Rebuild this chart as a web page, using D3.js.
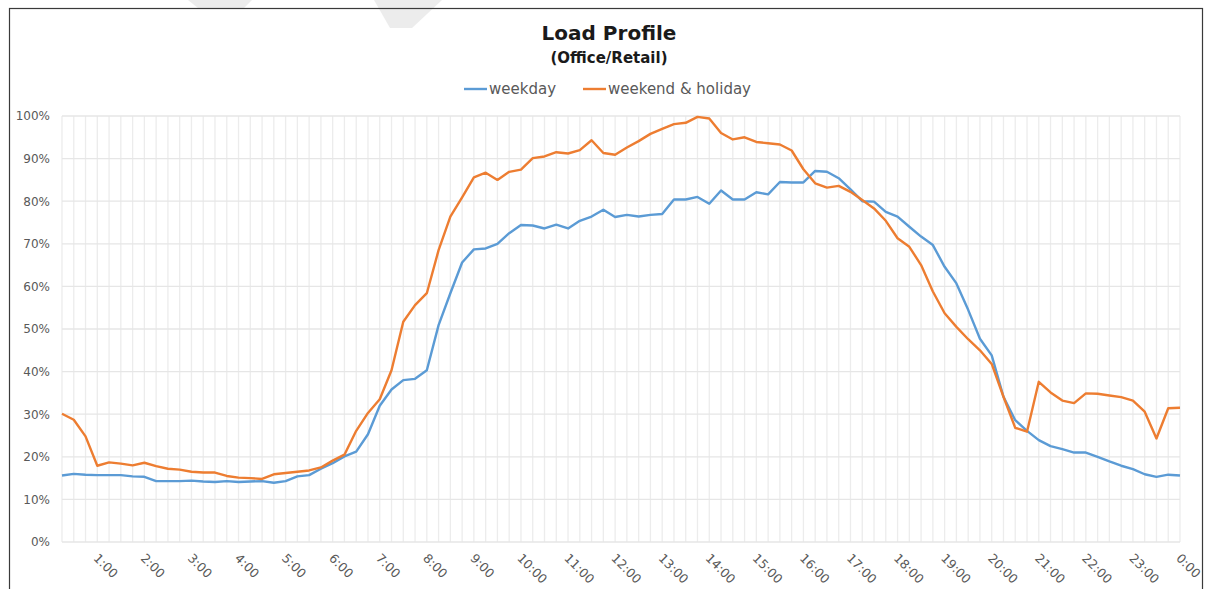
<!DOCTYPE html>
<html>
<head>
<meta charset="utf-8">
<script src="https://cdn.jsdelivr.net/npm/d3@7"></script>
<style>
  body { margin: 0; background: #fff; }
  svg { display: block; font-family: "DejaVu Sans", sans-serif; }
</style>
</head>
<body>
<svg id="chart"></svg>
<script>
////////////////////////////////////////////////////////////////////////////////
////////////////////////////////////////////////////////////////// Chart data
////////////////////////////////////////////////////////////////////////////////

// 15 minute slots, 0:15 ... 23:45, 0:00
const slots = [];
for (let i = 1; i <= 96; i++) {
  const m = i * 15;
  const h = Math.floor(m / 60) % 24;
  const mm = m % 60;
  slots.push(`${h}:${mm < 10 ? "0" + mm : mm}`);
}

// percent of peak load
const weekday = [
  15.6, 16.0, 15.8, 15.7, 15.7, 15.7, 15.4, 15.3,
  14.3, 14.3, 14.3, 14.4, 14.2, 14.1, 14.3, 14.1,
  14.2, 14.3, 13.9, 14.3, 15.4, 15.7, 17.2, 18.5,
  20.1, 21.2, 25.3, 32.0, 35.8, 38.0, 38.3, 40.3,
  50.9, 58.4, 65.6, 68.7, 68.9, 70.0, 72.5, 74.4,
  74.3, 73.6, 74.5, 73.6, 75.4, 76.4, 78.0, 76.3,
  76.8, 76.4, 76.8, 77.0, 80.4, 80.4, 81.0, 79.4,
  82.5, 80.4, 80.4, 82.1, 81.6, 84.5, 84.4, 84.4,
  87.1, 86.9, 85.4, 82.8, 80.0, 79.9, 77.5, 76.4,
  74.0, 71.7, 69.7, 64.6, 60.7, 54.5, 47.7, 43.8,
  34.1, 28.6, 26.1, 23.9, 22.5, 21.8, 21.0, 21.0,
  20.0, 18.9, 17.9, 17.1, 15.9, 15.3, 15.8, 15.6
];

const weekend = [
  30.1, 28.7, 24.8, 17.9, 18.7, 18.4, 18.0, 18.6,
  17.8, 17.2, 17.0, 16.5, 16.3, 16.3, 15.5, 15.1,
  15.0, 14.8, 15.9, 16.2, 16.5, 16.8, 17.5, 19.1,
  20.5, 26.1, 30.3, 33.5, 40.3, 51.7, 55.6, 58.4,
  68.5, 76.4, 80.9, 85.6, 86.7, 85.0, 86.9, 87.4,
  90.1, 90.5, 91.5, 91.2, 92.0, 94.3, 91.3, 90.9,
  92.6, 94.1, 95.8, 97.0, 98.1, 98.4, 99.8, 99.4,
  96.0, 94.5, 95.0, 93.9, 93.6, 93.3, 91.9, 87.5,
  84.2, 83.2, 83.6, 82.2, 80.3, 78.3, 75.4, 71.3,
  69.3, 65.0, 58.8, 53.7, 50.5, 47.6, 45.0, 41.8,
  34.1, 26.8, 25.9, 37.6, 35.1, 33.2, 32.6, 34.9,
  34.8, 34.4, 34.0, 33.2, 30.6, 24.3, 31.4, 31.5
];

const seriesNames = ["weekday", "weekend & holiday"];
const seriesColors = ["#5b9bd5", "#ed7d31"];
const yTicks = [0, 10, 20, 30, 40, 50, 60, 70, 80, 90, 100];

////////////////////////////////////////////////////////////////////////////////
////////////////////////////////////////////////////////////////// Draw chart
////////////////////////////////////////////////////////////////////////////////

const W = 1205, H = 589;
const margin = { top: 116, right: 25, bottom: 47, left: 62 };
const width = W - margin.left - margin.right;
const height = H - margin.top - margin.bottom;

const svg = d3.select("#chart")
              .attr("width", W)
              .attr("height", H);

// faint watermark bits above the frame
svg.append("polygon")
   .attr("points", "188,0 252,0 244,8 198,8")
   .attr("fill", "#ececec");
svg.append("polygon")
   .attr("points", "374,0 442,0 412,28 390,28")
   .attr("fill", "#ececec");

// chart frame
svg.append("rect")
   .attr("x", 9.5)
   .attr("y", 8.5)
   .attr("width", 1193)
   .attr("height", 620)
   .attr("fill", "none")
   .attr("stroke", "#3a3a3a")
   .attr("stroke-width", 1.2);

const g = svg.append("g")
             .attr("transform", `translate(${margin.left},${margin.top})`);

// X scale: one point per slot, first and last on the plot edges
const xScale = d3.scalePoint()
                 .domain(slots)
                 .range([0, width]);

const yScale = d3.scaleLinear()
                 .domain([0, 100])
                 .range([height, 0]);

// vertical gridlines, one per slot
g.append("g")
  .selectAll("line")
  .data(slots)
  .join("line")
    .attr("x1", d => xScale(d))
    .attr("x2", d => xScale(d))
    .attr("y1", 0)
    .attr("y2", height)
    .attr("stroke", "#ececec")
    .attr("stroke-width", 1.3);

// horizontal gridlines
g.append("g")
  .selectAll("line")
  .data(yTicks)
  .join("line")
    .attr("x1", 0)
    .attr("x2", width)
    .attr("y1", d => yScale(d))
    .attr("y2", d => yScale(d))
    .attr("stroke", "#e6e6e6")
    .attr("stroke-width", 1.3);

// Y axis labels
const yAxis = d3.axisLeft(yScale)
                .tickValues(yTicks)
                .tickFormat(d => d + "%")
                .tickSize(0)
                .tickPadding(12);
g.append("g")
  .call(yAxis)
  .call(a => a.select(".domain").remove())
  .selectAll("text")
    .attr("fill", "#595959")
    .style("font-size", "12px")
    .style("font-family", "DejaVu Sans, sans-serif");

// X axis labels, only on the hour
const xAxis = d3.axisBottom(xScale)
                .tickValues(slots.filter(d => d.endsWith(":00")))
                .tickSize(0)
                .tickPadding(0);
g.append("g")
  .attr("transform", `translate(0,${height})`)
  .call(xAxis)
  .call(a => a.select(".domain").remove())
  .selectAll("text")
    .attr("fill", "#595959")
    .style("font-size", "12.5px")
    .style("font-family", "DejaVu Sans, sans-serif")
    .style("text-anchor", "start")
    .attr("dy", 0)
    .attr("y", 0)
    .attr("transform", "translate(-5,17) rotate(45)");

// lines
const line = d3.line()
               .x((d, i) => xScale(slots[i]))
               .y(d => yScale(d));

[weekday, weekend].forEach(function(values, k) {
  g.append("path")
    .datum(values)
    .attr("fill", "none")
    .attr("stroke", seriesColors[k])
    .attr("stroke-width", 2.4)
    .attr("stroke-linejoin", "round")
    .attr("d", line);
});

// Title
svg.append("text")
   .attr("x", 609)
   .attr("y", 40)
   .style("text-anchor", "middle")
   .style("font-size", "20px")
   .style("font-weight", "bold")
   .attr("fill", "#1a1a1a")
   .text("Load Profile");
svg.append("text")
   .attr("x", 609)
   .attr("y", 63)
   .style("text-anchor", "middle")
   .style("font-size", "15px")
   .style("font-weight", "bold")
   .attr("fill", "#1a1a1a")
   .text("(Office/Retail)");

// Legend
const legendX = [464, 583];
const legend = svg.append("g");
seriesNames.forEach(function(name, k) {
  legend.append("line")
        .attr("x1", legendX[k])
        .attr("x2", legendX[k] + 23)
        .attr("y1", 89)
        .attr("y2", 89)
        .attr("stroke", seriesColors[k])
        .attr("stroke-width", 2.4);
  legend.append("text")
        .attr("x", legendX[k] + 25)
        .attr("y", 94)
        .style("font-size", "15px")
        .attr("fill", "#595959")
        .text(name);
});
</script>
</body>
</html>
